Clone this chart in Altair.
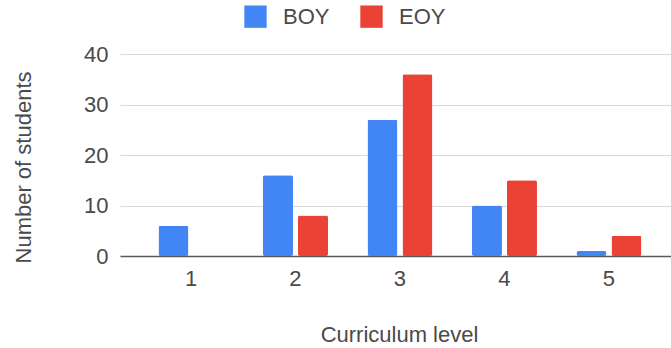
import altair as alt
import pandas as pd

levels = ["1", "2", "3", "4", "5"]
series = ["BOY", "EOY"]
boy = [6, 16, 27, 10, 1]
eoy = [0, 8, 36, 15, 4]
colors = ["#4285F4", "#EA4335"]
y_ticks = [0, 10, 20, 30, 40]

rows = []
for lv, b, e in zip(levels, boy, eoy):
    rows.append({"level": lv, "series": "BOY", "count": b})
    rows.append({"level": lv, "series": "EOY", "count": e})
df = pd.DataFrame(rows)

FONT = "Liberation Sans"
TXT = "#4a4a4a"
FS = 22

bars = alt.Chart(df).mark_bar(cornerRadius=2).encode(
    x=alt.X("level:N", sort=levels,
            scale=alt.Scale(paddingInner=0.378, paddingOuter=0.3255, align=0.566),
            axis=alt.Axis(title="Curriculum level", labelAngle=0, ticks=False, grid=False,
                          domain=True, domainColor="#5a5a5a", domainWidth=1.5,
                          labelPadding=12, labelFontSize=FS, labelFont=FONT,
                          labelColor=TXT, titleFont=FONT, titleFontSize=FS,
                          titleFontWeight="normal", titleColor=TXT,
                          titleX=279, titleY=78, titleBaseline="middle",
                          titleAnchor="start", titleAlign="center")),
    xOffset=alt.XOffset("series:N", sort=series,
                        scale=alt.Scale(paddingInner=0.143, paddingOuter=0)),
    y=alt.Y("count:Q",
            scale=alt.Scale(domain=[0, 40], nice=False),
            axis=alt.Axis(title="Number of students", values=y_ticks, ticks=False,
                          domain=False, domainOpacity=0, grid=True, gridColor="#d9d9d9",
                          labelPadding=12, labelFontSize=FS, labelFont=FONT,
                          labelColor=TXT, titleFont=FONT, titleFontSize=FS,
                          titleFontWeight="normal", titleColor=TXT,
                          titleAngle=-90, titleX=-97, titleY=113,
                          titleBaseline="middle", titleAlign="center",
                          titleAnchor="start")),
    color=alt.Color("series:N", sort=series,
                    scale=alt.Scale(domain=series, range=colors),
                    legend=alt.Legend(title=None, orient="none", direction="horizontal",
                                      legendX=124, legendY=-49, padding=0,
                                      symbolType="square", symbolSize=500,
                                      symbolStrokeWidth=0, labelFont=FONT,
                                      labelFontSize=FS, labelColor=TXT,
                                      labelOffset=16, columnPadding=30)),
)

chart = bars.properties(
    width=551, height=202,
    background="white",
    autosize=alt.AutoSizeParams(type="none"),
    padding={"left": 120, "top": 54, "right": 0, "bottom": 92},
).configure_view(stroke="transparent", strokeWidth=0).configure_axisY(domain=False, domainOpacity=0)

chart.save("out.html", embed_options={"renderer": "svg", "actions": False})
